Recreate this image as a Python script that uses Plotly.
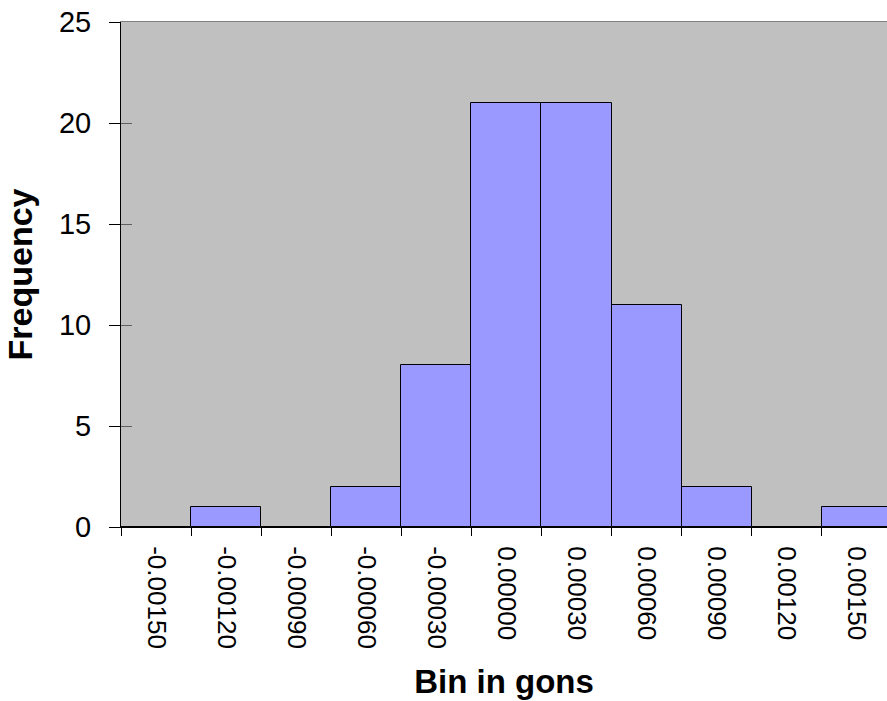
import plotly.graph_objects as go

bins = ["-0.00150", "-0.00120", "-0.00090", "-0.00060", "-0.00030", "0.00000",
        "0.00030", "0.00060", "0.00090", "0.00120", "0.00150"]
frequency = [0, 1, 0, 2, 8, 21, 21, 11, 2, 0, 1]

FONT = "Arial, Liberation Sans, sans-serif"

fig = go.Figure()
fig.add_trace(go.Bar(
    x=bins, y=frequency,
    marker=dict(color="#9999FF", line=dict(color="black", width=1)),
    showlegend=False,
))
fig.add_trace(go.Scatter(x=[None], y=[None], xaxis="x2", yaxis="y2",
                         showlegend=False, hoverinfo="skip"))

fig.update_layout(
    width=887, height=701,
    margin=dict(l=121, r=0, t=22, b=174),
    paper_bgcolor="white",
    plot_bgcolor="#C0C0C0",
    bargap=0,
    font=dict(family=FONT, color="black", size=25),
    xaxis=dict(
        type="category",
        categoryorder="array", categoryarray=bins,
        range=[-0.5, 10.43],
        tickson="boundaries",
        ticks="outside", ticklen=8, tickcolor="black", tickwidth=1,
        tickangle=90,
        tickfont=dict(size=26, family=FONT),
        ticklabelstandoff=13,
        showline=True, linecolor="black", linewidth=1,
        showgrid=False, zeroline=False, automargin=False,
        title=dict(text="<b>Bin in gons</b>", font=dict(size=33, family=FONT), standoff=22),
    ),
    xaxis2=dict(
        overlaying="x", side="top", anchor="y",
        range=[0, 1],
        showline=True, linecolor="#808080", linewidth=1,
        showticklabels=False, ticks="", showgrid=False, zeroline=False, automargin=False,
    ),
    yaxis=dict(
        range=[0, 25], dtick=5,
        ticks="outside", ticklen=11, tickcolor="black", tickwidth=1,
        tickfont=dict(size=29, family=FONT),
        ticklabelstandoff=12,
        showline=True, linecolor="black", linewidth=1,
        showgrid=False, zeroline=False, automargin=False,
        title=dict(text="<b>Frequency</b>", font=dict(size=34, family=FONT), standoff=16),
    ),
    yaxis2=dict(
        overlaying="y", anchor="x",
        range=[0, 25], dtick=5,
        ticks="inside", ticklen=11, tickcolor="#606060", tickwidth=1,
        showticklabels=False, showline=False, showgrid=False, zeroline=False, automargin=False,
    ),
)

fig.write_html(
    "out.html",
    config={"displayModeBar": False},
    post_script="document.body.style.margin='0';document.body.style.overflow='hidden';",
)
